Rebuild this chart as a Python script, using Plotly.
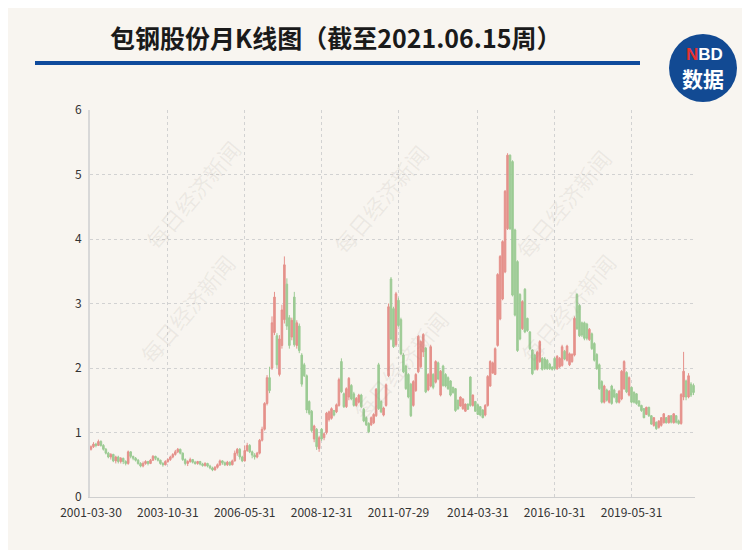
import plotly.graph_objects as go
import pandas as pd

# ---------------- data ----------------
tick_labels = ["2001-03-30", "2003-10-31", "2006-05-31", "2008-12-31",
               "2011-07-29", "2014-03-31", "2016-10-31", "2019-05-31"]

open_ = [
0.74,0.78,0.82,0.80,0.86,0.80,0.74,0.68,0.62,0.66,
0.56,0.62,0.55,0.60,0.55,0.52,0.70,0.63,0.60,0.57,
0.52,0.48,0.52,0.55,0.52,0.57,0.63,0.60,0.57,0.52,
0.50,0.55,0.58,0.62,0.66,0.70,0.74,0.68,0.58,0.52,
0.55,0.58,0.54,0.52,0.55,0.51,0.49,0.52,0.48,0.45,
0.42,0.46,0.50,0.56,0.53,0.50,0.54,0.50,0.56,0.68,
0.74,0.62,0.56,0.72,0.80,0.70,0.65,0.62,0.68,0.88,
1.05,1.45,1.85,2.00,2.55,2.50,1.90,2.35,2.75,3.30,
2.78,2.48,3.10,2.35,2.65,2.20,2.05,1.88,1.48,1.33,
0.90,1.05,0.75,1.05,0.92,1.00,1.20,1.22,1.34,1.32,
1.42,2.10,1.60,1.40,1.55,1.73,1.60,1.42,1.47,1.58,
1.36,1.23,1.14,1.12,1.15,1.26,2.05,1.48,1.27,1.42,
1.88,3.38,2.92,2.36,3.05,2.75,2.20,2.03,1.90,1.75,
1.42,1.65,1.94,2.02,2.25,2.31,1.66,1.72,1.90,1.78,
2.08,1.58,2.03,1.90,1.85,1.80,1.70,1.68,1.50,1.41,
1.37,1.33,1.44,1.86,1.42,1.48,1.43,1.40,1.35,1.27,
1.42,1.72,1.92,1.90,2.35,2.76,3.07,3.49,4.16,5.30,
5.20,4.14,3.65,3.14,2.61,3.22,2.77,2.56,2.28,2.20,
1.98,2.10,2.15,2.14,2.12,2.06,2.01,2.15,1.99,2.02,
2.04,2.26,2.12,2.05,2.10,2.20,3.14,2.97,2.70,2.70,
2.68,2.44,2.53,2.38,2.21,2.05,1.79,1.47,1.66,1.47,
1.72,1.66,1.60,1.47,1.52,1.68,1.93,1.58,1.70,1.62,
1.60,1.49,1.42,1.37,1.28,1.39,1.26,1.11,1.16,1.08,
1.11,1.15,1.23,1.15,1.26,1.15,1.26,1.18,1.14,1.55,
1.80,1.55,1.75,1.73]

high = [
0.80,0.85,0.84,0.89,0.88,0.82,0.76,0.70,0.68,0.67,
0.64,0.64,0.62,0.61,0.57,0.72,0.71,0.64,0.62,0.59,
0.54,0.55,0.57,0.56,0.59,0.65,0.64,0.61,0.58,0.54,
0.57,0.60,0.64,0.68,0.73,0.76,0.75,0.69,0.60,0.57,
0.61,0.59,0.56,0.56,0.56,0.53,0.54,0.53,0.50,0.47,
0.48,0.52,0.58,0.57,0.55,0.56,0.55,0.58,0.72,0.76,
0.76,0.64,0.80,0.84,0.82,0.72,0.68,0.70,0.90,1.09,
1.47,1.89,2.02,2.80,3.18,2.54,2.51,2.98,3.73,3.39,
2.82,2.78,3.18,2.74,2.69,2.23,2.08,1.90,1.50,1.35,
1.12,1.07,0.95,1.07,1.00,1.32,1.34,1.39,1.35,1.45,
1.85,2.15,1.62,1.70,1.86,1.75,1.63,1.55,1.60,1.60,
1.38,1.25,1.16,1.25,1.30,1.69,2.08,1.50,1.40,1.76,
3.00,3.41,2.95,3.18,3.09,2.78,2.23,2.05,1.92,1.77,
1.81,1.92,2.51,2.43,2.54,2.33,1.92,2.36,1.92,2.12,
2.10,1.97,2.05,1.92,1.87,1.81,1.71,1.69,1.51,1.56,
1.53,1.45,1.45,1.87,1.59,1.49,1.45,1.41,1.36,1.44,
1.89,2.12,2.10,2.32,3.47,3.75,3.98,4.76,5.33,5.31,
5.22,4.16,3.67,3.16,3.05,3.24,2.78,2.57,2.29,2.22,
2.27,2.43,2.17,2.17,2.14,2.08,2.03,2.17,2.20,2.17,
2.36,2.28,2.36,2.24,2.23,2.80,3.16,2.99,2.72,2.72,
2.70,2.62,2.55,2.40,2.23,2.07,1.81,1.74,1.68,1.66,
1.74,1.68,1.61,1.66,1.97,2.12,1.95,1.87,1.71,1.64,
1.61,1.50,1.43,1.38,1.40,1.40,1.27,1.24,1.17,1.19,
1.24,1.30,1.24,1.27,1.27,1.30,1.27,1.20,1.61,2.25,
1.82,1.92,1.78,1.76]

low = [
0.72,0.76,0.77,0.79,0.78,0.72,0.66,0.60,0.58,0.54,
0.52,0.52,0.52,0.51,0.49,0.50,0.60,0.57,0.55,0.50,
0.46,0.46,0.50,0.49,0.51,0.56,0.57,0.55,0.50,0.47,
0.49,0.53,0.56,0.60,0.64,0.68,0.66,0.56,0.49,0.48,
0.53,0.52,0.50,0.50,0.49,0.47,0.47,0.46,0.43,0.40,
0.41,0.44,0.48,0.50,0.48,0.48,0.48,0.49,0.55,0.64,
0.58,0.54,0.55,0.70,0.68,0.60,0.58,0.60,0.66,0.86,
1.03,1.42,1.61,1.97,2.51,2.00,1.87,2.30,2.69,2.59,
2.30,2.43,2.33,2.30,2.23,1.71,1.86,1.30,1.27,1.00,
0.85,0.73,0.70,0.87,0.88,0.97,1.17,1.20,1.25,1.30,
1.40,1.61,1.38,1.38,1.50,1.50,1.40,1.40,1.45,1.38,
1.16,1.10,0.99,1.10,1.13,1.24,1.35,1.30,1.25,1.40,
1.86,2.43,2.31,2.33,2.64,2.20,1.92,1.66,1.53,1.24,
1.40,1.63,1.92,2.00,2.17,1.61,1.64,1.70,1.67,1.76,
1.81,1.56,1.71,1.70,1.66,1.56,1.60,1.32,1.35,1.40,
1.35,1.32,1.35,1.40,1.40,1.32,1.27,1.25,1.22,1.25,
1.40,1.71,1.92,1.89,2.33,2.74,3.05,3.47,4.14,4.14,
3.11,2.80,2.25,2.43,2.59,2.54,2.56,2.28,1.89,1.96,
1.96,2.08,1.96,1.97,1.97,1.97,1.96,1.97,1.97,2.00,
2.02,2.12,2.10,2.03,2.08,2.18,2.59,2.48,2.48,2.43,
2.43,2.42,2.28,2.10,1.97,1.66,1.45,1.45,1.48,1.45,
1.43,1.53,1.45,1.45,1.50,1.66,1.61,1.56,1.45,1.45,
1.43,1.40,1.32,1.22,1.27,1.24,1.12,1.09,1.04,1.06,
1.09,1.14,1.14,1.14,1.14,1.14,1.14,1.12,1.12,1.50,
1.50,1.53,1.55,1.58]

close = [
0.78,0.82,0.80,0.86,0.80,0.74,0.68,0.62,0.66,0.56,
0.62,0.55,0.60,0.55,0.52,0.70,0.63,0.60,0.57,0.52,
0.48,0.52,0.55,0.52,0.57,0.63,0.60,0.57,0.52,0.50,
0.55,0.58,0.62,0.66,0.70,0.74,0.68,0.58,0.52,0.55,
0.58,0.54,0.52,0.55,0.51,0.49,0.52,0.48,0.45,0.42,
0.46,0.50,0.56,0.53,0.50,0.54,0.50,0.56,0.68,0.74,
0.62,0.56,0.72,0.80,0.70,0.65,0.62,0.68,0.88,1.05,
1.45,1.85,1.65,2.70,3.10,2.05,2.45,2.90,3.60,2.65,
2.35,2.74,2.36,2.70,2.27,1.75,1.88,1.35,1.30,1.03,
1.10,0.78,0.92,0.90,0.98,1.30,1.32,1.37,1.27,1.43,
1.82,1.63,1.40,1.68,1.84,1.52,1.42,1.53,1.58,1.40,
1.18,1.12,1.01,1.23,1.28,1.67,1.37,1.32,1.38,1.74,
2.95,2.45,2.33,3.15,2.66,2.22,1.94,1.68,1.55,1.26,
1.79,1.90,2.49,2.41,2.52,1.63,1.90,2.33,1.70,2.10,
1.83,1.95,1.73,1.72,1.68,1.58,1.62,1.34,1.37,1.55,
1.52,1.44,1.36,1.42,1.58,1.33,1.28,1.27,1.23,1.42,
1.87,2.10,2.08,2.30,3.45,3.73,3.96,4.74,5.30,4.16,
3.13,2.82,2.27,2.45,3.03,2.56,2.58,2.30,1.91,1.98,
2.25,2.41,1.98,1.99,1.99,1.99,1.98,1.99,2.18,2.15,
2.33,2.14,2.34,2.22,2.21,2.77,2.61,2.50,2.51,2.46,
2.46,2.60,2.30,2.12,1.99,1.68,1.47,1.72,1.50,1.64,
1.45,1.55,1.47,1.64,1.95,2.10,1.63,1.85,1.47,1.47,
1.45,1.41,1.34,1.23,1.39,1.26,1.13,1.23,1.06,1.18,
1.23,1.29,1.15,1.26,1.16,1.29,1.16,1.14,1.59,1.95,
1.55,1.88,1.58,1.62]

n = len(open_)
assert len(high) == n and len(low) == n and len(close) == n, (len(open_), len(high), len(low), len(close))

# monthly dates: last business day of each month, starting 2001-03
dates = pd.date_range("2001-03-01", periods=n, freq=pd.offsets.BMonthEnd()).strftime("%Y-%m-%d").tolist()

# ---------------- style ----------------
OFF = 8                      # page body margin of the browser
W, H = 750 - OFF, 550 - OFF  # figure fits inside the window
# plot area in window pixels: x 90..695, y 110..497
SX0, SX1, SY0, SY1 = 90, 695, 110, 497
ML, MT = SX0 - OFF, SY0 - OFF
MR, MB = W - (SX1 - OFF), H - (SY1 - OFF)
PW, PH = SX1 - SX0, SY1 - SY0
BG = "#F8F5F0"
RED = "#E5918B"
GREEN = "#9CCB94"
BLUE = "#0F4B9C"
FONT = "Noto Sans CJK SC, Microsoft YaHei, sans-serif"


def px(xp):
    return (xp - SX0) / PW


def py(yp):
    return (SY1 - yp) / PH


fig = go.Figure(go.Candlestick(
    x=dates, open=open_, high=high, low=low, close=close,
    increasing=dict(line=dict(color=RED, width=1), fillcolor=RED),
    decreasing=dict(line=dict(color=GREEN, width=1), fillcolor=GREEN),
    whiskerwidth=0, showlegend=False,
))

annotations = []
# watermarks
for (wx, wy) in [(135, 130), (380, 135), (620, 140), (130, 372), (400, 365), (625, 372)]:
    annotations.append(dict(
        x=px(wx), y=py(wy), xref="paper", yref="paper", showarrow=False,
        text="每日经济新闻", textangle=-50,
        font=dict(family=FONT, size=22, color="rgba(150,140,130,0.12)"),
    ))

# title
annotations.append(dict(
    x=px(335), y=py(37), xref="paper", yref="paper", showarrow=False,
    xanchor="center", yanchor="middle",
    text="<b>包钢股份月K线图（截至2021.06.15周）</b>",
    font=dict(family=FONT, size=25, color="#1a1a1a"),
))
# logo texts
annotations.append(dict(
    x=px(704), y=py(54), xref="paper", yref="paper", showarrow=False,
    xanchor="center", yanchor="middle",
    text="<b><span style='color:#E8322E'>N</span>BD</b>",
    font=dict(family="Liberation Sans, Arial, sans-serif", size=17, color="white"),
))
annotations.append(dict(
    x=px(703), y=py(78), xref="paper", yref="paper", showarrow=False,
    xanchor="center", yanchor="middle",
    text="<b>数据</b>",
    font=dict(family=FONT, size=21, color="white"),
))

shapes = [
    dict(type="line", xref="paper", yref="paper",
         x0=px(35), x1=px(640), y0=py(63), y1=py(63),
         line=dict(color=BLUE, width=4)),
    dict(type="circle", xref="paper", yref="paper",
         x0=px(669), x1=px(737), y0=py(102), y1=py(34),
         fillcolor="#124A93", line=dict(color="#124A93", width=0)),
]

fig.update_layout(
    width=W, height=H,
    margin=dict(l=ML, r=MR, t=MT, b=MB, pad=0),
    paper_bgcolor=BG, plot_bgcolor=BG,
    font=dict(family=FONT, size=12, color="#333333"),
    annotations=annotations, shapes=shapes,
    boxgap=0.1,
    xaxis=dict(
        type="category", range=[-0.4, n - 0.4],
        tickmode="array", tickvals=tick_labels, ticktext=tick_labels,
        showgrid=True, gridcolor="#D2D2D2", griddash="dot", gridwidth=1,
        showline=True, linecolor="#CFCFCF", linewidth=1,
        ticks="", ticklabelstandoff=5, tickfont=dict(size=12, color="#333333"),
        rangeslider=dict(visible=False), fixedrange=True,
    ),
    yaxis=dict(
        range=[0, 6], tick0=0, dtick=1,
        showgrid=True, gridcolor="#D2D2D2", griddash="dot", gridwidth=1,
        showline=True, linecolor="#D8D8D8", linewidth=2,
        zeroline=False, ticks="", ticklabelstandoff=4,
        tickfont=dict(size=12, color="#333333"),
    ),
)

fig.write_html("out.html")
